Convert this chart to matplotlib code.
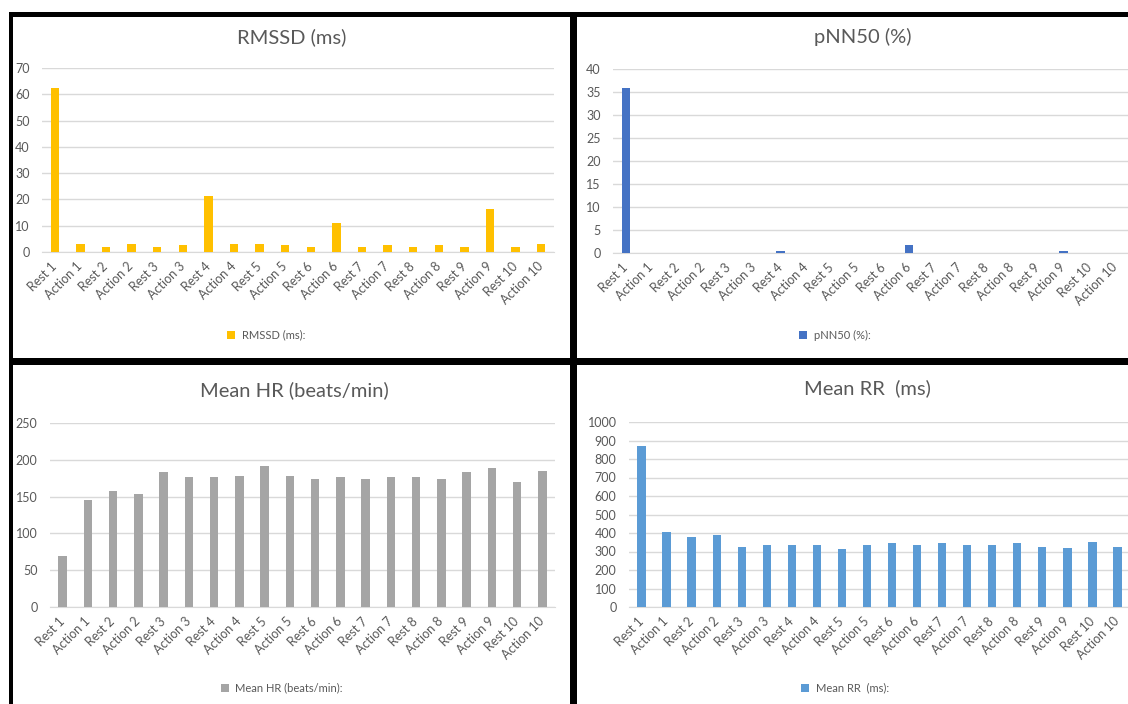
import matplotlib
matplotlib.use('Agg')
import matplotlib.pyplot as plt
from matplotlib.patches import Rectangle
import numpy as np

plt.rcParams['font.family'] = ['Lato', 'DejaVu Sans']

categories = ['Rest 1', 'Action 1', 'Rest 2', 'Action 2', 'Rest 3', 'Action 3',
              'Rest 4', 'Action 4', 'Rest 5', 'Action 5', 'Rest 6', 'Action 6',
              'Rest 7', 'Action 7', 'Rest 8', 'Action 8', 'Rest 9', 'Action 9',
              'Rest 10', 'Action 10']

rmssd = [62.5, 3, 2, 3, 2, 2.5, 21.3, 3, 3, 2.5, 2, 11, 2, 2.5, 2, 2.5, 2, 16.4, 2, 3]
pnn50 = [35.8, 0, 0, 0, 0, 0, 0.4, 0, 0, 0, 0, 1.8, 0, 0, 0, 0, 0, 0.4, 0, 0]
mean_hr = [69, 146, 157, 153, 183, 176, 176, 178, 192, 178, 174, 176, 174, 176, 176,
           174, 183, 189, 170, 185]
mean_rr = [871, 405, 380, 389, 327, 336, 336, 336, 311, 336, 345, 336, 345, 336, 336,
           345, 327, 320, 354, 327]

W, H = 1128, 704
TXT = '#595959'
GRID = '#D9D9D9'

fig = plt.figure(figsize=(W / 100, H / 100), dpi=100)


def box(x0, x1, y0, y1):
    # pixel box (y from top) -> figure fractions
    return [x0 / W, 1 - y1 / H, (x1 - x0) / W, (y1 - y0) / H]


def panel(rect, values, color, ymax, step, title, title_xy, leg_label, leg_xy):
    ax = fig.add_axes(box(*rect))
    x = np.arange(len(categories))
    ax.bar(x, values, width=0.33, color=color, label=leg_label, zorder=3)
    ax.set_xlim(-0.5, len(categories) - 0.5)
    ax.set_ylim(0, ymax)
    ax.set_yticks(np.arange(0, ymax + step, step))
    ax.grid(axis='y', color=GRID, linewidth=1, zorder=0)
    for s in ['top', 'right', 'left']:
        ax.spines[s].set_visible(False)
    ax.spines['bottom'].set_color(GRID)
    ax.tick_params(length=0, colors=TXT, labelsize=9)
    ax.tick_params(axis='y', pad=9)
    ax.set_xticks(x)
    ax.set_xticklabels(categories, rotation=45, ha='right', va='center',
                       rotation_mode='anchor')
    ax.tick_params(axis='x', pad=9)
    fig.text(title_xy[0] / W, 1 - title_xy[1] / H, title, ha='center', va='center',
             fontsize=14.5, color=TXT)
    ax.legend(loc='center', bbox_to_anchor=(leg_xy[0] / W, 1 - leg_xy[1] / H),
              bbox_transform=fig.transFigure, frameon=False, fontsize=8,
              handlelength=0.7, handleheight=0.7, handletextpad=0.6, labelcolor=TXT)
    return ax


panel((42, 554, 68, 252), rmssd, '#FFC000', 70, 10, 'RMSSD (ms)', (292, 37),
      'RMSSD (ms):', (266, 335))
panel((613, 1128, 69, 253), pnn50, '#4472C4', 40, 5, 'pNN50 (%)', (863, 37),
      'pNN50 (%):', (835, 335))
panel((50, 555, 423, 607), mean_hr, '#A5A5A5', 250, 50, 'Mean HR (beats/min)', (294, 390),
      'Mean HR (beats/min):', (282, 688))
panel((629, 1130, 422, 607), mean_rr, '#5B9BD5', 1000, 100, 'Mean RR  (ms)', (867, 388),
      'Mean RR  (ms):', (845, 688))

# black borders around the pasted charts
for x0, x1, y0, y1 in [(9, 1128, 12, 17), (9, 13, 12, 704), (570, 577, 12, 704),
                       (9, 1128, 358, 365)]:
    b = box(x0, x1, y0, y1)
    fig.add_artist(Rectangle((b[0], b[1]), b[2], b[3], transform=fig.transFigure,
                             facecolor='black', edgecolor='none', zorder=10))

fig.savefig('out.png', dpi=100)
